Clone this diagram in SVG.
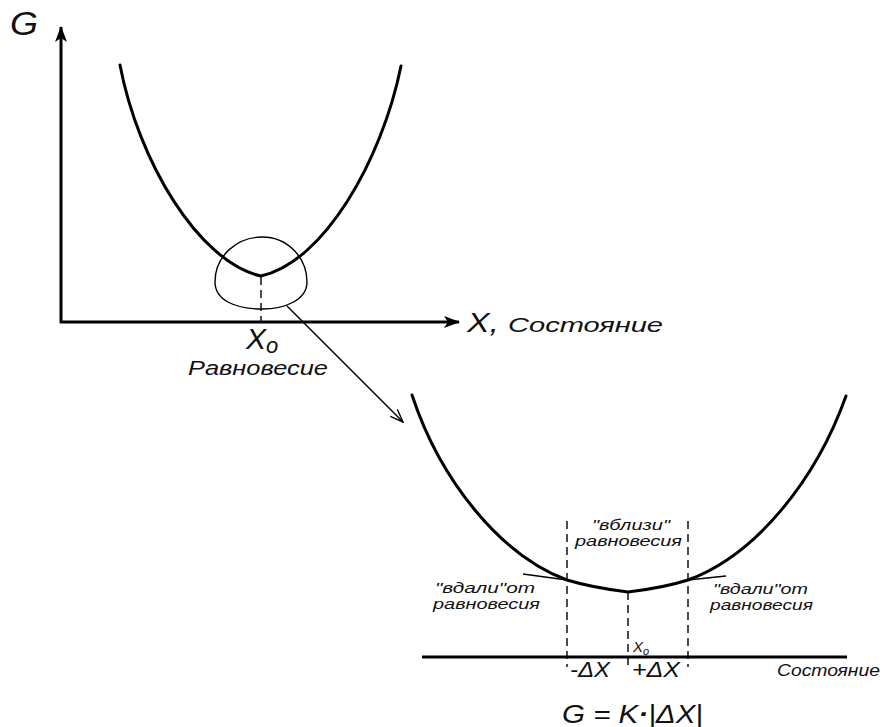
<svg xmlns="http://www.w3.org/2000/svg" width="884" height="727" viewBox="0 0 884 727">
<style>
.t{font-family:"Liberation Sans",Arial,sans-serif;font-style:italic;fill:#111}
.axis{stroke:#000;stroke-width:3;fill:none}
.curve{stroke:#000;stroke-width:3;fill:none;stroke-linecap:round}
.thin{stroke:#000;stroke-width:1.4;fill:none}
.dash{stroke:#000;stroke-width:1.4;stroke-dasharray:8 5;fill:none}
</style>
<defs>
<marker id="ah" viewBox="0 0 16 12" refX="15" refY="6" markerWidth="16" markerHeight="12" markerUnits="userSpaceOnUse" orient="auto">
<path d="M0,0 L16,6 L0,12 L4,6 Z" fill="#000"/>
</marker>
<marker id="oa" viewBox="0 0 14 10" refX="13" refY="5" markerWidth="14" markerHeight="10" markerUnits="userSpaceOnUse" orient="auto">
<path d="M0,0 L13,5 L0,10" fill="none" stroke="#000" stroke-width="1.4"/>
</marker>
</defs>
<rect width="884" height="727" fill="#fff"/>
<g id="top-graph">
<line class="axis" x1="61" y1="323" x2="61" y2="27" marker-end="url(#ah)"/>
<line class="axis" x1="60" y1="322" x2="459" y2="322" marker-end="url(#ah)"/>
<path class="curve" d="M120,65 C138,160 198,262 261,276 C324,262 382,160 401,66"/>
<path class="thin" d="M215,282 C215,255 238,237 262,237 C288,237 307,258 307,282 C307,300 285,309 262,309 C235,309 215,300 215,282 Z"/>
<line class="dash" x1="261" y1="277" x2="261" y2="322" stroke-dasharray="6 4"/>
</g>
<g id="top-labels">
<text class="t" x="10" y="35" font-size="33" textLength="28" lengthAdjust="spacingAndGlyphs">G</text>
<text class="t" x="246" y="349" font-size="30">X<tspan font-size="22" dy="4">o</tspan></text>
<text class="t" x="188" y="375" font-size="20" textLength="140" lengthAdjust="spacingAndGlyphs">Равновесие</text>
<text class="t" x="467" y="332" font-size="27" textLength="32" lengthAdjust="spacingAndGlyphs">X,</text>
<text class="t" x="508" y="332" font-size="21" textLength="155" lengthAdjust="spacingAndGlyphs">Состояние</text>
</g>
<g id="connectors">
<line class="thin" x1="287" y1="306" x2="403" y2="422" marker-end="url(#oa)"/>
</g>
<g id="bottom-graph">
<line class="axis" x1="422" y1="657" x2="847" y2="657" stroke-width="2.5"/>
<path class="curve" stroke-width="2.5" d="M412,395 C440,480 500,555 567,580 C590,587 612,590 628,592 C645,590 666,587 688,580 C756,555 816,480 846,396"/>
<line class="thin" x1="523" y1="574" x2="567" y2="580"/>
<line class="thin" x1="688" y1="580" x2="726" y2="576"/>
<line class="dash" x1="567" y1="521" x2="567" y2="667"/>
<line class="dash" x1="688" y1="521" x2="688" y2="667"/>
<line class="dash" x1="628" y1="592" x2="628" y2="667"/>
</g>
<g id="bottom-labels">
<text class="t" font-size="14"><tspan x="592" y="530" textLength="78" lengthAdjust="spacingAndGlyphs">"вблизи"</tspan><tspan x="575" y="546" textLength="107" lengthAdjust="spacingAndGlyphs">равновесия</tspan></text>
<text class="t" font-size="15"><tspan x="435" y="593" textLength="100" lengthAdjust="spacingAndGlyphs">"вдали"от</tspan><tspan x="433" y="609" textLength="107" lengthAdjust="spacingAndGlyphs">равновесия</tspan></text>
<text class="t" font-size="15"><tspan x="713" y="594" textLength="95" lengthAdjust="spacingAndGlyphs">"вдали"от</tspan><tspan x="710" y="610" textLength="103" lengthAdjust="spacingAndGlyphs">равновесия</tspan></text>
<text class="t" x="633" y="652" font-size="15">X<tspan font-size="11" dy="3">o</tspan></text>
<text class="t" x="570" y="677" font-size="22" textLength="40" lengthAdjust="spacingAndGlyphs">-ΔX</text>
<text class="t" x="632" y="677" font-size="22" textLength="48" lengthAdjust="spacingAndGlyphs">+ΔX</text>
<text class="t" x="777" y="676" font-size="17" textLength="103" lengthAdjust="spacingAndGlyphs">Состояние</text>
<text class="t" x="562" y="723" font-size="25" textLength="141" lengthAdjust="spacingAndGlyphs">G = K<tspan font-weight="bold">·</tspan>|ΔX|</text>
</g>
</svg>
